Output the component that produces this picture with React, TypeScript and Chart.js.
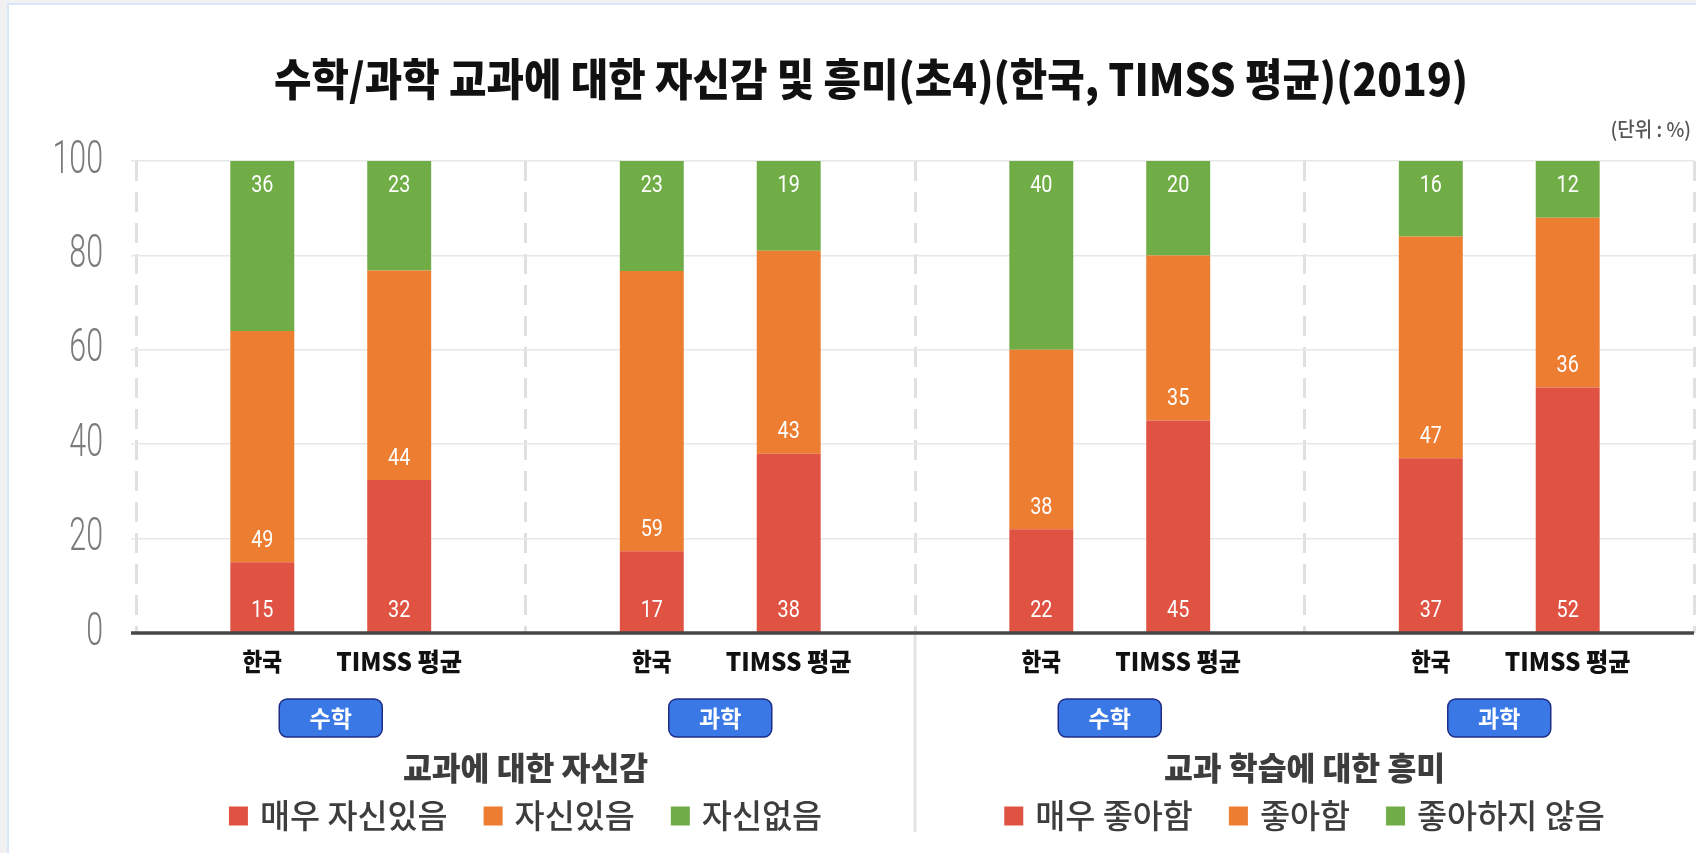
import React, { useEffect, useRef } from 'react';
import { Chart, registerables } from 'chart.js';

Chart.register(...registerables);

const TITLE = '수학/과학 교과에 대한 자신감 및 흥미(초4)(한국, TIMSS 평균)(2019)';
const UNIT_NOTE = '(단위 : %)';
const CATEGORIES = ['수학', '과학', '수학', '과학'];
const GROUP_TITLES = ['교과에 대한 자신감', '교과 학습에 대한 흥미'];
const STACKS = ['한국', 'TIMSS 평균'];
const CONFIDENCE_LEGEND = ['매우 자신있음', '자신있음', '자신없음'];
const INTEREST_LEGEND = ['매우 좋아함', '좋아함', '좋아하지 않음'];
const Y_TICKS = [0, 20, 40, 60, 80, 100];

// values per category (수학 자신감, 과학 자신감, 수학 흥미, 과학 흥미); labels show rounded values
const KOREA_HIGH = [15, 17.3, 22, 37];
const KOREA_MID = [49, 59.4, 38, 47];
const KOREA_LOW = [36, 23.3, 40, 16];
const TIMSS_HIGH = [32.4, 38, 45, 52];
const TIMSS_MID = [44.4, 43, 35, 36];
const TIMSS_LOW = [23.2, 19, 20, 12];

const COLORS = ['#E05343', '#ED7D31', '#70AD47'];
const KR = "'Noto Sans CJK KR', 'Noto Sans', sans-serif";

function drawText(
  ctx: CanvasRenderingContext2D,
  s: string,
  x: number,
  y: number,
  font: string,
  color: string,
  align: CanvasTextAlign,
  sx = 1
) {
  ctx.save();
  ctx.font = font;
  ctx.fillStyle = color;
  ctx.textAlign = align;
  ctx.textBaseline = 'middle';
  ctx.translate(x, y);
  ctx.scale(sx, 1);
  ctx.fillText(s, 0, 0);
  ctx.restore();
}

function fitText(
  ctx: CanvasRenderingContext2D,
  s: string,
  x: number,
  y: number,
  font: string,
  color: string,
  align: CanvasTextAlign,
  targetW: number
) {
  ctx.save();
  ctx.font = font;
  const w = ctx.measureText(s).width;
  ctx.restore();
  drawText(ctx, s, x, y, font, color, align, w > 0 ? targetW / w : 1);
}

const decorPlugin = {
  id: 'decor',
  afterDatasetsDraw(chart: any) {
    const ctx: CanvasRenderingContext2D = chart.ctx;
    const ys = chart.scales.y;
    const area = chart.chartArea;
    const y0 = ys.getPixelForValue(0);

    // baseline
    ctx.save();
    ctx.strokeStyle = '#474747';
    ctx.lineWidth = 3.5;
    ctx.beginPath();
    ctx.moveTo(area.left - 5, y0);
    ctx.lineTo(area.right, y0);
    ctx.stroke();
    ctx.restore();

    // value labels inside segments
    chart.data.datasets.forEach((ds: any, d: number) => {
      const level = d % 3;
      const meta = chart.getDatasetMeta(d);
      meta.data.forEach((el: any, i: number) => {
        const p = el.getProps(['x', 'y', 'base'], true);
        const ly = level === 2 ? p.y + 25 : p.base - 21;
        drawText(ctx, String(Math.round(ds.data[i])), p.x, ly, '400 23px Roboto', '#ffffff', 'center', 0.86);
      });
    });
  },
  afterDraw(chart: any) {
    const ctx: CanvasRenderingContext2D = chart.ctx;
    const xs = chart.scales.x;
    const ys = chart.scales.y;
    const y0 = ys.getPixelForValue(0);

    // title
    fitText(ctx, TITLE, 871, 79, `900 44px ${KR}`, '#111111', 'center', 1194);
    // unit note
    drawText(ctx, UNIT_NOTE, 1691, 129, `500 20px ${KR}`, '#555555', 'right', 0.95);

    // y tick labels
    ys.ticks.forEach((t: any) => {
      const y = ys.getPixelForValue(t.value);
      drawText(ctx, String(t.value), 103, y, '300 46px Roboto', '#7b7b7b', 'right', 0.66);
    });

    // separator between the two halves (below the axis)
    const sepX = (xs.getPixelForValue(1) + xs.getPixelForValue(2)) / 2;
    ctx.save();
    ctx.strokeStyle = '#e3e3e3';
    ctx.lineWidth = 3;
    ctx.beginPath();
    ctx.moveTo(sepX, y0 + 2);
    ctx.lineTo(sepX, 832);
    ctx.stroke();
    ctx.restore();

    // per-bar labels
    STACKS.forEach((name, s) => {
      const meta = chart.getDatasetMeta(s * 3);
      meta.data.forEach((el: any) => {
        const p = el.getProps(['x'], true);
        drawText(ctx, name, p.x, 661, `900 25px ${KR}`, '#111111', 'center', s === 0 ? 0.86 : 0.97);
      });
    });

    // subject buttons
    CATEGORIES.forEach((c, i) => {
      const cx = xs.getPixelForValue(i);
      const w = 103;
      const h = 38;
      const top = 699;
      ctx.save();
      ctx.beginPath();
      (ctx as any).roundRect(cx - w / 2, top, w, h, 8);
      ctx.fillStyle = '#3A78E6';
      ctx.fill();
      ctx.lineWidth = 1.5;
      ctx.strokeStyle = '#1F2D86';
      ctx.stroke();
      ctx.restore();
      drawText(ctx, c, cx, top + h / 2, `700 23px ${KR}`, '#ffffff', 'center', 1);
    });

    // group titles and legends
    const legends = [CONFIDENCE_LEGEND, INTEREST_LEGEND];
    GROUP_TITLES.forEach((g, gi) => {
      const cx = (xs.getPixelForValue(gi * 2) + xs.getPixelForValue(gi * 2 + 1)) / 2;
      drawText(ctx, g, cx, 768, `900 32px ${KR}`, '#3d3d3d', 'center', 0.98);

      const items = legends[gi];
      const font = `500 33px ${KR}`;
      const sxl = 0.99;
      const sq = 19;
      const gapIn = 12;
      const gapOut = 36;
      ctx.save();
      ctx.font = font;
      const widths = items.map((t) => ctx.measureText(t).width * sxl);
      ctx.restore();
      const total =
        widths.reduce((a, b) => a + b, 0) + items.length * (sq + gapIn) + (items.length - 1) * gapOut;
      let x = cx - total / 2;
      const ly = 815;
      items.forEach((t, k) => {
        ctx.save();
        ctx.fillStyle = COLORS[k];
        ctx.fillRect(x, ly - sq / 2 + 1, sq, sq);
        ctx.restore();
        x += sq + gapIn;
        drawText(ctx, t, x, ly, font, '#3d3d3d', 'left', sxl);
        x += widths[k] + gapOut;
      });
    });
  },
};

function buildDatasets() {
  const korea = [KOREA_HIGH, KOREA_MID, KOREA_LOW];
  const timss = [TIMSS_HIGH, TIMSS_MID, TIMSS_LOW];
  const make = (arr: number[][], stack: string) =>
    arr.map((data, k) => ({
      label: `${stack} · ${CONFIDENCE_LEGEND[k]} / ${INTEREST_LEGEND[k]}`,
      stack,
      data,
      backgroundColor: COLORS[k],
      borderWidth: 0,
      categoryPercentage: 0.703,
      barPercentage: 0.467,
    }));
  return [...make(korea, STACKS[0]), ...make(timss, STACKS[1])];
}

export default function App() {
  const ref = useRef<HTMLCanvasElement>(null);

  useEffect(() => {
    if (!ref.current) return;
    const chart = new Chart(ref.current, {
      type: 'bar',
      data: { labels: CATEGORIES, datasets: buildDatasets() as any },
      options: {
        responsive: false,
        devicePixelRatio: 1,
        animation: false,
        layout: { padding: { top: 161, right: 2, left: 0, bottom: 0 } },
        plugins: {
          legend: { display: false },
          title: { display: false },
          tooltip: { enabled: false },
        },
        scales: {
          x: {
            stacked: true,
            ticks: { display: false },
            grid: {
              offset: true,
              color: '#e0e0e0',
              lineWidth: 3,
              drawTicks: false,
            },
            border: { display: false, dash: [20, 11] },
            afterFit: (s: any) => {
              s.height = 220;
            },
          },
          y: {
            stacked: true,
            min: 0,
            max: 100,
            ticks: { display: false, stepSize: 20 },
            afterBuildTicks: (s: any) => {
              s.ticks = Y_TICKS.map((v) => ({ value: v }));
            },
            grid: {
              color: (c: any) => (c.tick && c.tick.value === 0 ? 'rgba(0,0,0,0)' : '#e7e7e7'),
              lineWidth: 1.5,
              tickLength: 5,
              drawTicks: true,
            },
            border: { display: false },
            afterFit: (s: any) => {
              s.width = 136;
            },
          },
        },
      } as any,
      plugins: [decorPlugin],
    });
    return () => chart.destroy();
  }, []);

  return (
    <div
      style={{
        position: 'absolute',
        left: 0,
        top: 0,
        width: 1696,
        height: 853,
        overflow: 'hidden',
        background: '#f1f1f1',
      }}
    >
      <div
        style={{
          position: 'absolute',
          left: 7,
          top: 3,
          width: 1720,
          height: 880,
          background: '#ffffff',
          border: '2px solid #d9e6f9',
          boxSizing: 'border-box',
        }}
      />
      <canvas
        ref={ref}
        width={1696}
        height={853}
        style={{ position: 'absolute', left: 0, top: 0, width: 1696, height: 853, display: 'block' }}
      />
    </div>
  );
}
